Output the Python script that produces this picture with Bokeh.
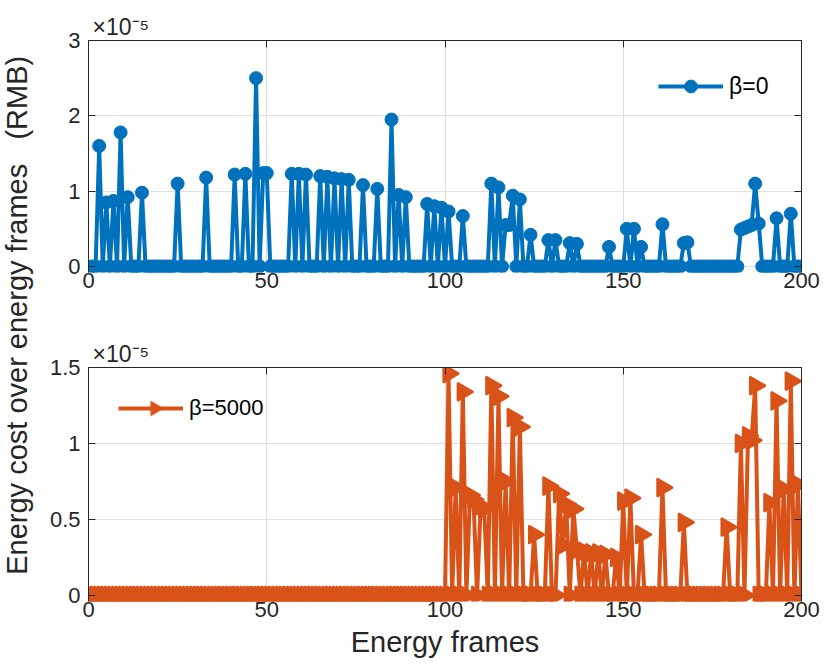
import numpy as np
from bokeh.plotting import figure
from bokeh.models import (Range1d, FixedTicker, LinearAxis, Label, Legend, LegendItem,
                          PolyAnnotation)
from bokeh.layouts import row, column
from bokeh.embed import file_html
from bokeh.resources import INLINE

# ---------------- data (energy cost in units of 1e-5 RMB) ----------------
frames = list(range(1, 201))

beta0_peak_frames = [3, 5, 7, 9, 11, 15, 25, 33, 41, 44, 47, 49, 50, 57, 59, 61, 65, 67,
                     69, 71, 73, 77, 81, 85, 87, 89, 95, 97, 99, 101, 105, 113, 115, 117,
                     118, 119, 121, 124, 129, 131, 135, 137, 146, 151, 153, 155, 161, 167,
                     168, 183, 184, 185, 186, 187, 188, 193, 197]
beta0_peak_values = [1.60, 0.85, 0.87, 1.78, 0.92, 0.98, 1.10, 1.18, 1.22, 1.23, 2.50, 1.24,
                     1.24, 1.23, 1.23, 1.22, 1.20, 1.19, 1.17, 1.16, 1.15, 1.08, 1.03, 1.95,
                     0.95, 0.92, 0.83, 0.80, 0.78, 0.73, 0.67, 1.10, 1.05, 0.55, 0.55, 0.94,
                     0.89, 0.42, 0.35, 0.35, 0.31, 0.30, 0.26, 0.50, 0.50, 0.26, 0.56, 0.31,
                     0.32, 0.49, 0.51, 0.53, 0.55, 1.10, 0.57, 0.64, 0.70]

beta5000_peak_frames = [101, 103, 105, 107, 108, 110, 111, 113, 115, 117, 119, 121, 125, 129,
                        132, 133, 134, 136, 137, 139, 141, 143, 145, 148, 150, 152, 155, 161,
                        167, 179, 183, 185, 186, 187, 191, 193, 195, 197, 199]
beta5000_peak_values = [1.46, 0.71, 1.34, 0.66, 0.63, 0.59, 0.57, 1.38, 1.31, 0.75, 1.17, 1.11,
                        0.40, 0.72, 0.67, 0.33, 0.60, 0.57, 0.30, 0.29, 0.28, 0.28, 0.27, 0.25,
                        0.62, 0.64, 0.40, 0.71, 0.48, 0.45, 1.00, 1.05, 1.02, 1.38, 0.61, 1.28,
                        0.70, 1.41, 0.73]

x_ticks = [0, 50, 100, 150, 200]
top_y_ticks = [0, 1, 2, 3]
bottom_y_ticks = [0, 0.5, 1, 1.5]


def full_series(peak_frames, peak_values):
    d = dict(zip(peak_frames, peak_values))
    return [d.get(f, 0.0) for f in frames]


beta0_cost = full_series(beta0_peak_frames, beta0_peak_values)
beta5000_cost = full_series(beta5000_peak_frames, beta5000_peak_values)

# ---------------- style ----------------
FONT = "Liberation Sans"
BLUE = "#0072BD"
ORANGE = "#D95319"
AXC = "#262626"
GRID = "#dfdfdf"
TICK_FS = "22px"
FIG_W, BORDER_L, BORDER_R = 778, 44, 21
FRAME_W = FIG_W - BORDER_L - BORDER_R


def make_axes(height, b_top, b_bottom, y_start, y_end, yticks):
    p = figure(width=FIG_W, height=height,
               x_range=Range1d(0, 200), y_range=Range1d(y_start, y_end),
               output_backend="svg", toolbar_location=None,
               min_border_left=BORDER_L, min_border_right=BORDER_R,
               min_border_top=b_top, min_border_bottom=b_bottom)
    p.outline_line_color = None
    p.background_fill_color = "white"
    xax = p.below[0]
    yax = p.left[0]
    xax.ticker = FixedTicker(ticks=x_ticks)
    yax.ticker = FixedTicker(ticks=yticks)
    for ax in (xax, yax):
        ax.major_tick_in = 7
        ax.major_tick_out = 0
        ax.minor_tick_line_color = None
        ax.axis_line_color = AXC
        ax.major_tick_line_color = AXC
        ax.major_label_text_font = FONT
        ax.major_label_text_font_size = TICK_FS
        ax.major_label_text_color = AXC
    # the x axis line at y=0 lies beneath the row of zero-valued markers
    xax.axis_line_color = None
    xax.major_tick_line_color = None
    xax.major_label_standoff = 0
    yax.major_label_standoff = 8
    p.grid.grid_line_color = GRID
    p.grid.grid_line_width = 1
    right = LinearAxis(ticker=FixedTicker(ticks=yticks), major_tick_in=7, major_tick_out=0,
                       minor_tick_line_color=None, axis_line_color=AXC,
                       major_tick_line_color=AXC, major_label_text_color=None,
                       major_label_standoff=0)
    above = LinearAxis(ticker=FixedTicker(ticks=x_ticks), major_tick_in=7, major_tick_out=0,
                       minor_tick_line_color=None, axis_line_color=AXC,
                       major_tick_line_color=AXC, major_label_text_color=None,
                       major_label_standoff=0)
    p.add_layout(right, "right")
    p.add_layout(above, "above")
    p.title.text = "×10⁻⁵"
    p.title.align = "left"
    p.title.offset = 4
    p.title.standoff = 2
    p.title.text_font = FONT
    p.title.text_font_size = "23px"
    p.title.text_font_style = "normal"
    p.title.text_color = AXC
    return p


# ---------------- top panel (beta = 0) ----------------
top = make_axes(317, 40, 45, -0.08, 3, top_y_ticks)
l1 = top.line(frames, beta0_cost, line_color=BLUE, line_width=4)
m1 = top.scatter(frames, beta0_cost, marker="circle", size=13, fill_color=BLUE,
                 line_color=BLUE)
leg1 = Legend(items=[LegendItem(label="β=0", renderers=[l1, m1])], location=(570, 170),
              border_line_color=None, background_fill_alpha=0, glyph_width=65,
              glyph_height=32, label_text_font=FONT, label_text_font_size="23px",
              label_text_color="black", label_standoff=6, padding=10, margin=0)
top.add_layout(leg1)

# ---------------- bottom panel (beta = 5000) ----------------
BOT_H, BOT_BT, BOT_BB = 343, 50, 59
BOT_Y0, BOT_Y1 = -0.04, 1.5
bot = make_axes(BOT_H, BOT_BT, BOT_BB, BOT_Y0, BOT_Y1, bottom_y_ticks)
l2 = bot.line(frames, beta5000_cost, line_color=ORANGE, line_width=4)
m2 = bot.scatter(frames, beta5000_cost, marker="triangle", angle=-np.pi / 2, size=18,
                 fill_color=ORANGE, line_color=ORANGE, line_width=2)
bx = bot.below[0]
bx.axis_label = "Energy frames"
bx.axis_label_text_font = FONT
bx.axis_label_text_font_size = "29px"
bx.axis_label_text_font_style = "normal"
bx.axis_label_text_color = AXC
bx.axis_label_standoff = 6
LEG2_X, LEG2_Y = 30, 177
leg2 = Legend(items=[LegendItem(label="β=5000", renderers=[l2])],
              location=(LEG2_X, LEG2_Y),
              border_line_color=None, background_fill_alpha=0, glyph_width=65,
              glyph_height=32, label_text_font=FONT, label_text_font_size="22px",
              label_text_color="black", label_standoff=6, padding=10, margin=0)
bot.add_layout(leg2)

# legend key marker: a right-pointing triangle (legend glyphs are drawn unrotated),
# placed at the legend key centre, converted from frame pixels to data units
frame_h = BOT_H - BOT_BT - BOT_BB
sx = 200.0 / FRAME_W
sy = (BOT_Y1 - BOT_Y0) / frame_h
key_cx_px = LEG2_X + 2 + 65 / 2 + 2
key_cy_px = LEG2_Y + 16
r = 7.5
h = r * np.sqrt(3)
tri_x_px = [key_cx_px - h / 3, key_cx_px - h / 3, key_cx_px + 2 * h / 3]
tri_y_px = [key_cy_px - r, key_cy_px + r, key_cy_px]
bot.add_layout(PolyAnnotation(xs=[v * sx for v in tri_x_px],
                              ys=[BOT_Y0 + v * sy for v in tri_y_px],
                              fill_color=ORANGE, fill_alpha=1.0, line_color=ORANGE,
                              line_width=2, level="overlay"))

# ---------------- shared y label ----------------
lab = figure(width=44, height=660, x_range=Range1d(0, 1), y_range=Range1d(0, 1),
             output_backend="svg", toolbar_location=None, min_border=0,
             x_axis_location=None, y_axis_location=None)
lab.outline_line_color = None
lab.grid.visible = False
lab.add_layout(Label(x=0.386, y=0.523,
                     text="Energy cost over energy frames\u00a0\u00a0\u00a0(RMB)",
                     angle=np.pi / 2, text_align="center", text_baseline="middle",
                     text_font=FONT, text_font_size="29px", text_color=AXC))

layout = row(lab, column(top, bot))
open("out.html", "w").write(file_html(layout, INLINE))
